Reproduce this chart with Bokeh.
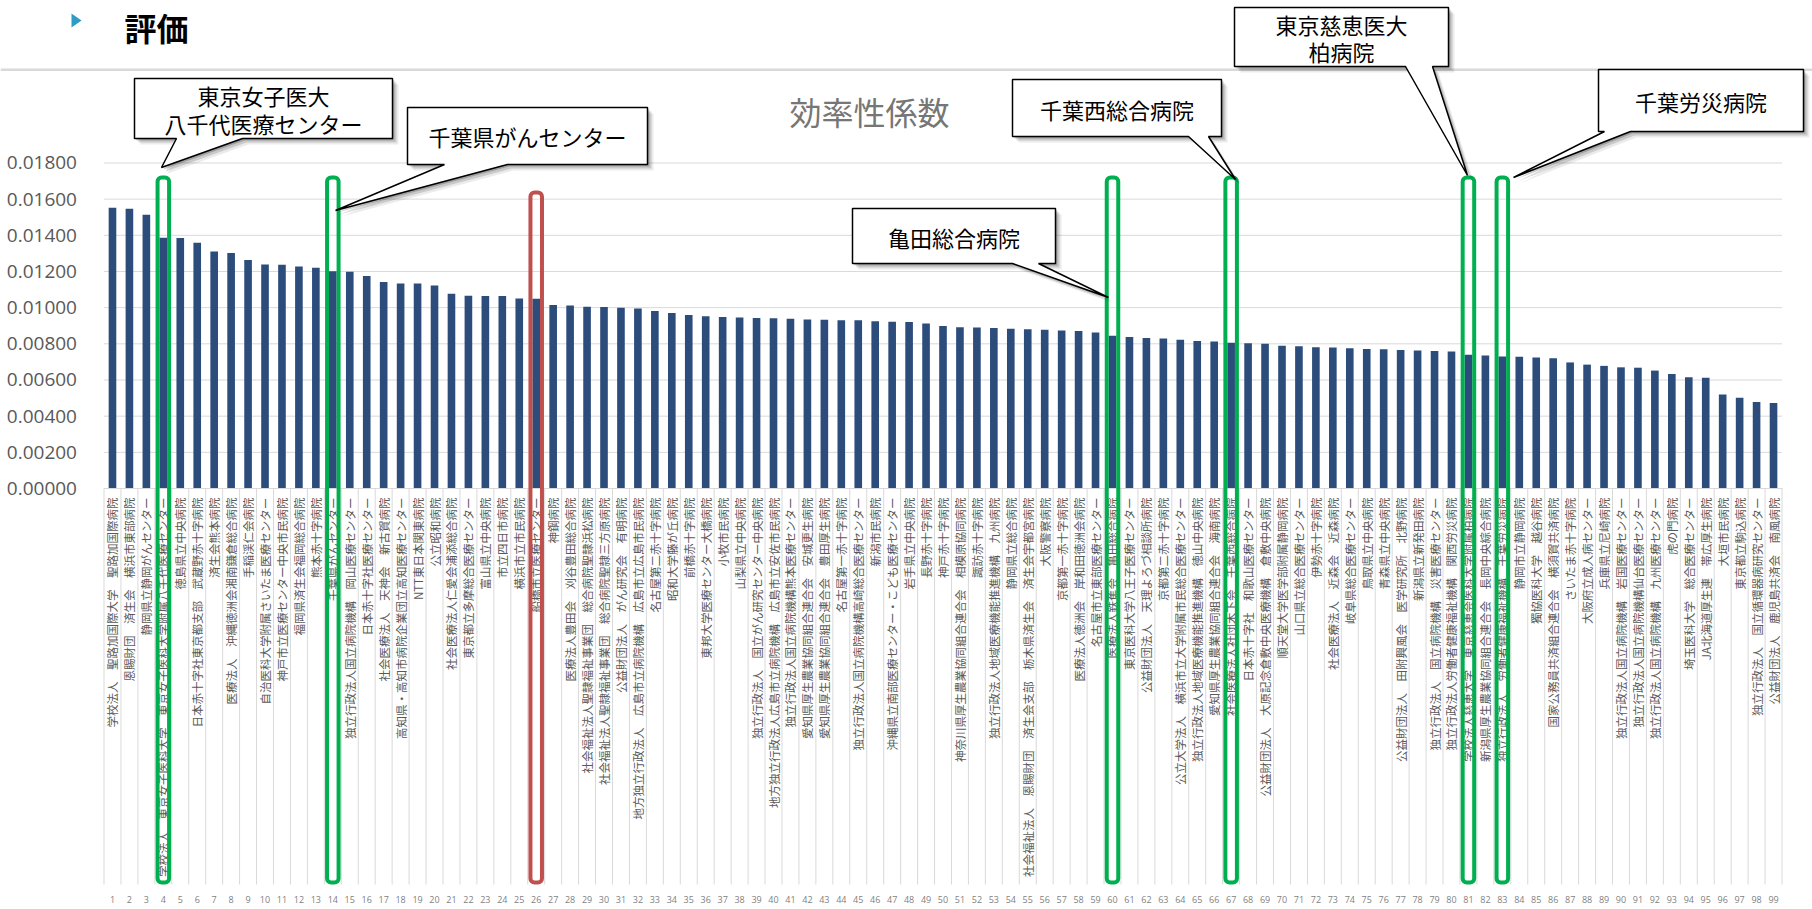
import math
from bokeh.plotting import figure
from bokeh.models import (Range1d, FixedTicker, PrintfTickFormatter, ColumnDataSource,
                          LabelSet, Label, BoxAnnotation, PolyAnnotation)
from bokeh.core.properties import value
from bokeh.embed import file_html
from bokeh.resources import INLINE

# ---------------- data ----------------
chart_title = "効率性係数"
page_heading = "評価"

hospitals = [
    "学校法人　聖路加国際大学　聖路加国際病院",
    "恩賜財団　済生会　横浜市東部病院",
    "静岡県立静岡がんセンター",
    "学校法人　東京女子医科大学　東京女子医科大学附属八千代医療センター",
    "徳島県立中央病院",
    "日本赤十字社東京都支部　武蔵野赤十字病院",
    "済生会熊本病院",
    "医療法人　沖縄徳洲会湘南鎌倉総合病院",
    "手稲渓仁会病院",
    "自治医科大学附属さいたま医療センター",
    "神戸市立医療センター中央市民病院",
    "福岡県済生会福岡総合病院",
    "熊本赤十字病院",
    "千葉県がんセンター",
    "独立行政法人国立病院機構　岡山医療センター",
    "日本赤十字社医療センター",
    "社会医療法人　天神会　新古賀病院",
    "高知県・高知市病院企業団立高知医療センター",
    "NTT東日本関東病院",
    "公立昭和病院",
    "社会医療法人仁愛会浦添総合病院",
    "東京都立多摩総合医療センター",
    "富山県立中央病院",
    "市立四日市病院",
    "横浜市立市民病院",
    "船橋市立医療センター",
    "神鋼病院",
    "医療法人豊田会　刈谷豊田総合病院",
    "社会福祉法人聖隷福祉事業団　総合病院聖隷浜松病院",
    "社会福祉法人聖隷福祉事業団　総合病院聖隷三方原病院",
    "公益財団法人　がん研究会　有明病院",
    "地方独立行政法人　広島市立病院機構　広島市立広島市民病院",
    "名古屋第二赤十字病院",
    "昭和大学藤が丘病院",
    "前橋赤十字病院",
    "東邦大学医療センター大橋病院",
    "小牧市民病院",
    "山梨県立中央病院",
    "独立行政法人　国立がん研究センター中央病院",
    "地方独立行政法人広島市立病院機構　広島市立安佐市民病院",
    "独立行政法人国立病院機構熊本医療センター",
    "愛知県厚生農業協同組合連合会　安城更生病院",
    "愛知県厚生農業協同組合連合会　豊田厚生病院",
    "名古屋第一赤十字病院",
    "独立行政法人国立病院機構高崎総合医療センター",
    "新潟市民病院",
    "沖縄県立南部医療センター・こども医療センター",
    "岩手県立中央病院",
    "長野赤十字病院",
    "神戸赤十字病院",
    "神奈川県厚生農業協同組合連合会　相模原協同病院",
    "諏訪赤十字病院",
    "独立行政法人地域医療機能推進機構　九州病院",
    "静岡県立総合病院",
    "社会福祉法人　恩賜財団　済生会支部　栃木県済生会　済生会宇都宮病院",
    "大阪警察病院",
    "京都第一赤十字病院",
    "医療法人徳洲会　岸和田徳洲会病院",
    "名古屋市立東部医療センター",
    "医療法人鉄蕉会　亀田総合病院",
    "東京医科大学八王子医療センター",
    "公益財団法人　天理よろづ相談所病院",
    "京都第二赤十字病院",
    "公立大学法人　横浜市立大学附属市民総合医療センター",
    "独立行政法人地域医療機能推進機構　徳山中央病院",
    "愛知県厚生農業協同組合連合会　海南病院",
    "社会医療法人社団木下会　千葉西総合病院",
    "日本赤十字社　和歌山医療センター",
    "公益財団法人　大原記念倉敷中央医療機構　倉敷中央病院",
    "順天堂大学医学部附属静岡病院",
    "山口県立総合医療センター",
    "伊勢赤十字病院",
    "社会医療法人　近森会　近森病院",
    "岐阜県総合医療センター",
    "鳥取県立中央病院",
    "青森県立中央病院",
    "公益財団法人　田附興風会　医学研究所　北野病院",
    "新潟県立新発田病院",
    "独立行政法人　国立病院機構　災害医療センター",
    "独立行政法人労働者健康福祉機構　関西労災病院",
    "学校法人慈恵大学　東京慈恵会医科大学附属柏病院",
    "新潟県厚生農業協同組合連合会　長岡中央綜合病院",
    "独立行政法人　労働者健康福祉機構　千葉労災病院",
    "静岡市立静岡病院",
    "獨協医科大学　越谷病院",
    "国家公務員共済組合連合会　横須賀共済病院",
    "さいたま赤十字病院",
    "大阪府立成人病センター",
    "兵庫県立尼崎病院",
    "独立行政法人国立病院機構　岩国医療センター",
    "独立行政法人国立病院機構仙台医療センター",
    "独立行政法人国立病院機構　九州医療センター",
    "虎の門病院",
    "埼玉医科大学　総合医療センター",
    "JA北海道厚生連　帯広厚生病院",
    "大垣市民病院",
    "東京都立駒込病院",
    "独立行政法人　国立循環器病研究センター",
    "公益財団法人　鹿児島共済会　南風病院",
]

efficiency = [
    0.01553, 0.01547, 0.01514, 0.01387, 0.01385, 0.01359, 0.01310, 0.01302, 0.01263, 0.01238,
    0.01237, 0.01227, 0.01221, 0.01201, 0.01199, 0.01175, 0.01142, 0.01134, 0.01133, 0.01123,
    0.01077, 0.01066, 0.01065, 0.01064, 0.01050, 0.01049, 0.01015, 0.01012, 0.01005, 0.01003,
    0.01000, 0.00995, 0.00982, 0.00970, 0.00960, 0.00953, 0.00948, 0.00945, 0.00943, 0.00941,
    0.00939, 0.00935, 0.00933, 0.00931, 0.00930, 0.00925, 0.00922, 0.00920, 0.00913, 0.00898,
    0.00892, 0.00890, 0.00887, 0.00883, 0.00881, 0.00878, 0.00874, 0.00871, 0.00862, 0.00845,
    0.00838, 0.00832, 0.00830, 0.00823, 0.00816, 0.00813, 0.00806, 0.00803, 0.00800, 0.00790,
    0.00786, 0.00781, 0.00779, 0.00775, 0.00772, 0.00770, 0.00766, 0.00763, 0.00760, 0.00758,
    0.00740, 0.00735, 0.00730, 0.00728, 0.00724, 0.00720, 0.00697, 0.00685, 0.00678, 0.00670,
    0.00668, 0.00652, 0.00633, 0.00615, 0.00612, 0.00520, 0.00502, 0.00478, 0.00473,
]

rank_numbers = list(range(1, len(hospitals) + 1))
rank_labels = [str(n) for n in rank_numbers]
y_ticks = [0.0, 0.002, 0.004, 0.006, 0.008, 0.010, 0.012, 0.014, 0.016, 0.018]

green_highlight = [4, 14, 60, 67, 81, 83]
red_highlight = [26]

callout_texts = [
    ["東京女子医大", "八千代医療センター"],
    ["千葉県がんセンター"],
    ["亀田総合病院"],
    ["千葉西総合病院"],
    ["東京慈恵医大", "柏病院"],
    ["千葉労災病院"],
]

# ---------------- layout (canvas pixels) ----------------
W, H = 1812, 909
N = len(hospitals)
FL, FR = 103.5, 1781.5            # x pixel of category edges 0.5 and N+0.5
YB = 488.0                        # y pixel of value 0
PXU = (FR - FL) / N               # pixels per category
PYU = 36.17 / 0.002               # pixels per unit of value
XS = 0.5 - FL / PXU
XE = N + 0.5 + (W - FR) / PXU
YS = -(H - YB) / PYU
YE = YB / PYU


def dx(px):
    return 0.5 + (px - FL) / PXU


def dy(py):
    return (YB - py) / PYU


p = figure(width=W, height=H, x_range=Range1d(XS, XE), y_range=Range1d(YS, YE),
           output_backend="svg", toolbar_location=None,
           min_border_left=0, min_border_right=0, min_border_top=0, min_border_bottom=0)
p.outline_line_color = None
p.background_fill_color = "white"
p.border_fill_color = "white"
p.xgrid.visible = False
p.ygrid.visible = False

# value gridlines (only across the plotting area)
p.segment(x0=[0.5] * len(y_ticks), x1=[N + 0.5] * len(y_ticks), y0=y_ticks, y1=y_ticks,
          line_color="#d9d9d9", line_width=1)

# y axis, pinned at the left edge of the category area
yax = p.yaxis[0]
yax.fixed_location = 0.5
yax.ticker = FixedTicker(ticks=y_ticks)
yax.formatter = PrintfTickFormatter(format="%.5f")
yax.axis_line_color = None
yax.major_tick_line_color = None
yax.minor_tick_line_color = None
yax.major_label_standoff = 21
yax.major_label_text_font = "Open Sans"
yax.major_label_text_font_size = "19px"
yax.major_label_text_color = "#595959"

# x axis (hospital names), pinned at value 0
xax = p.xaxis[0]
xax.fixed_location = 0
xax.bounds = (0.5, N + 0.5)
xax.ticker = FixedTicker(ticks=rank_numbers, minor_ticks=[])
xax.major_label_overrides = {n: name for n, name in zip(rank_numbers, hospitals)}
xax.major_label_orientation = math.pi / 2
xax.major_tick_line_color = None
xax.major_tick_out = 0
xax.major_tick_in = 0
xax.minor_tick_line_color = None
xax.axis_line_color = "#d9d9d9"
xax.major_label_standoff = 9
xax.major_label_text_font = "Noto Sans CJK JP"
xax.major_label_text_font_size = "11.5px"
xax.major_label_text_color = "#595959"

# category separators through the label area
for n in rank_numbers + [N + 1]:
    xs = n - 0.5
    p.add_layout(BoxAnnotation(left=xs - 0.5 / PXU, right=xs + 0.5 / PXU, top=0, bottom=dy(884),
                               fill_color="#d9d9d9", fill_alpha=1, line_color=None))

# bars
src = ColumnDataSource(dict(x=rank_numbers, top=efficiency, name=hospitals))
p.vbar(x="x", top="top", width=0.45, source=src, fill_color="#2C4C7C", line_color=None)

# rank numbers under the labels
num_src = ColumnDataSource(dict(x=rank_numbers, y=[dy(899)] * N, t=rank_labels))
p.add_layout(LabelSet(x="x", y="y", text="t", source=num_src, text_align="center",
                      text_baseline="middle", text_font_size=value("9px"),
                      text_color=value("#7f7f7f"), text_font=value("Open Sans")))

# highlight frames
half = 0.34
for n in green_highlight:
    p.add_layout(BoxAnnotation(left=n - half, right=n + half, top=dy(177), bottom=dy(882),
                               fill_color=None, fill_alpha=0, line_color="#00B050",
                               line_alpha=1, line_width=4, border_radius=4))
for n in red_highlight:
    p.add_layout(BoxAnnotation(left=n - half, right=n + half, top=dy(192), bottom=dy(882),
                               fill_color=None, fill_alpha=0, line_color="#C0504D",
                               line_alpha=1, line_width=4, border_radius=4))

# page heading
p.add_layout(BoxAnnotation(left=dx(0), right=dx(W), top=dy(68), bottom=dy(70.5),
                           fill_color="#d9d9d9", fill_alpha=1, line_color=None))
p.add_layout(PolyAnnotation(xs=[dx(71), dx(71), dx(81)], ys=[dy(13), dy(27), dy(20)],
                            fill_color="#2E9CC8", fill_alpha=1, line_color=None))
p.add_layout(Label(x=dx(124), y=dy(26), text=page_heading, text_align="left",
                   text_baseline="middle", text_font="Noto Sans CJK JP",
                   text_font_style="bold", text_font_size="32px", text_color="#000000"))

# chart title
p.add_layout(Label(x=dx(869), y=dy(110), text=chart_title, text_align="center",
                   text_baseline="middle", text_font="Noto Sans CJK JP",
                   text_font_size="32px", text_color="#767676"))

# callouts: box (x0, y0, x1, y1), pointer base (b0, b1), tip, text line centres
callout_geom = [
    dict(box=(134, 78, 392, 138), base=(176, 242), tip=(161, 167), ly=[94, 122]),
    dict(box=(407, 107, 647, 164), base=(444, 507), tip=(335, 210), ly=[135]),
    dict(box=(852, 208, 1055, 263), base=(1012, 1038), tip=(1108, 297), ly=[236]),
    dict(box=(1012, 79, 1221, 136), base=(1188, 1208), tip=(1235, 179), ly=[108]),
    dict(box=(1234, 7, 1448, 66), base=(1405, 1432), tip=(1467, 175), ly=[23, 50]),
    dict(box=(1598, 69, 1803, 131), base=(1604, 1630), tip=(1513, 177), ly=[100]),
]

for texts, g in zip(callout_texts, callout_geom):
    x0, y0, x1, y1 = g["box"]
    b0, b1 = g["base"]
    tx, ty = g["tip"]
    pts = [(x0, y0), (x1, y0), (x1, y1), (b1, y1), (tx, ty), (b0, y1), (x0, y1)]
    for off, alpha in ((6, 0.08), (4, 0.14), (2, 0.2)):
        p.add_layout(PolyAnnotation(xs=[dx(a + off) for a, b in pts], ys=[dy(b + off) for a, b in pts],
                                    fill_color="#000000", fill_alpha=alpha, line_color=None))
    p.add_layout(PolyAnnotation(xs=[dx(a) for a, b in pts], ys=[dy(b) for a, b in pts],
                                fill_color="white", fill_alpha=1, line_color="#000000",
                                line_alpha=1, line_width=1.5))
    cx = (x0 + x1) / 2
    for t, yy in zip(texts, g["ly"]):
        p.add_layout(Label(x=dx(cx), y=dy(yy), text=t, text_align="center",
                           text_baseline="middle", text_font="Noto Sans CJK JP",
                           text_font_size="22px", text_color="#000000"))

open("out.html", "w").write(file_html(p, INLINE))
